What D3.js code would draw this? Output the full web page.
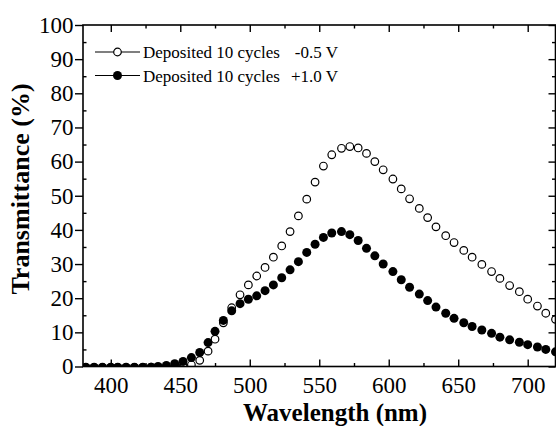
<!DOCTYPE html>
<html>
<head>
<meta charset="utf-8">
<script src="https://cdn.jsdelivr.net/npm/d3@7"></script>
<style>
  body { margin: 0; background: #fff; }
  svg { display: block; color: #000; }
  text { font-family: "Liberation Serif", "Times New Roman", serif; fill: #000; }
</style>
</head>
<body>
<svg id="canvas" width="556" height="426"></svg>
<script>
// wavelength (nm) of each plotted point
let wavelength = [382,388,394,400,405,411,417,423,429,434,440,446,452,
  458,464,470,475,481,487,493,499,505,511,517,523,529,535,541,547,553,
  559,566,572,578,584,590,596,603,609,615,622,628,634,
  641,647,654,660,667,674,680,687,694,700,707,713,720]

// transmittance (%) at -0.5 V (open circles)
let transNeg = [-0.2,-0.2,-0.2,-0.2,-0.2,-0.2,-0.2,-0.2,-0.2,-0.2,-0.2,-0.1,0.1,
  0.5,1.8,4.5,8.0,12.8,17.2,21.0,23.9,26.5,29.0,32.0,35.3,39.5,44.1,49.0,54.0,58.7,
  62.0,63.9,64.4,64.0,62.4,60.0,57.6,54.9,52.0,49.1,46.3,43.6,40.9,
  38.3,36.3,34.0,32.0,29.9,27.8,25.8,23.7,21.9,19.7,17.7,15.6,13.8]

// transmittance (%) at +1.0 V (filled circles)
let transPos = [-0.3,-0.3,-0.3,-0.3,-0.3,-0.3,-0.3,-0.3,-0.2,0.0,0.3,0.8,1.5,
  2.6,4.1,7.0,10.3,13.5,16.3,18.4,19.7,20.7,22.2,23.9,26.0,28.3,30.7,33.4,35.8,37.8,
  39.1,39.5,38.6,36.9,34.6,32.4,30.0,27.8,25.4,23.2,21.2,19.3,17.4,
  15.6,14.1,12.8,11.7,10.7,9.7,8.6,7.8,7.1,6.4,5.7,5.0,4.3]

let xTicks = [400,450,500,550,600,650,700]
let xMinor = [425,475,525,575,625,675]
let yTicks = [0,10,20,30,40,50,60,70,80,90,100]
let yMinor = [5,15,25,35,45,55,65,75,85,95]

let legendLabels = ['Deposited 10 cycles', 'Deposited 10 cycles']
let legendVolts = ['-0.5 V', '+1.0 V']

let svg = d3.select('#canvas')

let pLeft = 83, pRight = 555.5, pTop = 25, pBottom = 366.5

let x = d3.scaleLinear().domain([380, 720]).range([pLeft, pRight])
let y = d3.scaleLinear().domain([0, 100]).range([pBottom, pTop])

svg.append('defs').append('clipPath').attr('id', 'plotclip')
  .append('rect')
  .attr('x', pLeft).attr('y', pTop)
  .attr('width', pRight - pLeft).attr('height', pBottom - pTop)

// data points
let plot = svg.append('g').attr('clip-path', 'url(#plotclip)')

plot.selectAll('.open')
  .data(wavelength)
  .enter()
  .append('circle')
  .attr('class', 'open')
  .attr('cx', (d) => x(d))
  .attr('cy', (d, i) => y(transNeg[i]))
  .attr('r', 3.8)
  .attr('fill', '#fff')
  .attr('stroke', '#000')
  .attr('stroke-width', 1.2)

plot.selectAll('.filled')
  .data(wavelength)
  .enter()
  .append('circle')
  .attr('class', 'filled')
  .attr('cx', (d) => x(d))
  .attr('cy', (d, i) => y(transPos[i]))
  .attr('r', 4.5)
  .attr('fill', '#000')

// axes
let styleAxis = (g) => {
  g.select('.domain').remove()
  g.selectAll('line').attr('stroke', '#000').attr('stroke-width', 1.4)
  g.selectAll('text')
    .attr('fill', '#000')
    .attr('font-size', 23)
    .attr('font-family', '"Liberation Serif", serif')
}

svg.append('g')
  .attr('transform', 'translate(0,' + pBottom + ')')
  .call(d3.axisBottom(x).tickValues(xTicks).tickSize(-7).tickPadding(10.5))
  .call(styleAxis)
svg.append('g')
  .attr('transform', 'translate(0,' + pBottom + ')')
  .call(d3.axisBottom(x).tickValues(xMinor).tickSize(-3.5).tickFormat(''))
  .call(styleAxis)

svg.append('g')
  .attr('transform', 'translate(0,' + pTop + ')')
  .call(d3.axisTop(x).tickValues(xTicks).tickSize(-7).tickFormat(''))
  .call(styleAxis)
svg.append('g')
  .attr('transform', 'translate(0,' + pTop + ')')
  .call(d3.axisTop(x).tickValues(xMinor).tickSize(-3.5).tickFormat(''))
  .call(styleAxis)

svg.append('g')
  .attr('transform', 'translate(' + pLeft + ',0)')
  .call(d3.axisLeft(y).tickValues(yTicks).tickSize(8).tickPadding(1.5))
  .call(styleAxis)
svg.append('g')
  .attr('transform', 'translate(' + pLeft + ',0)')
  .call(d3.axisLeft(y).tickValues(yMinor).tickSize(-3.5).tickFormat(''))
  .call(styleAxis)

svg.append('g')
  .attr('transform', 'translate(' + pRight + ',0)')
  .call(d3.axisRight(y).tickValues(yTicks).tickSize(-7).tickFormat(''))
  .call(styleAxis)
svg.append('g')
  .attr('transform', 'translate(' + pRight + ',0)')
  .call(d3.axisRight(y).tickValues(yMinor).tickSize(-3.5).tickFormat(''))
  .call(styleAxis)

// frame
svg.append('rect')
  .attr('x', pLeft).attr('y', pTop)
  .attr('width', pRight - pLeft).attr('height', pBottom - pTop)
  .attr('fill', 'none')
  .attr('stroke', '#000')
  .attr('stroke-width', 1.6)

// axis titles
svg.append('text')
  .attr('x', 335)
  .attr('y', 421)
  .attr('text-anchor', 'middle')
  .attr('font-size', 25)
  .attr('font-weight', 'bold')
  .text('Wavelength (nm)')

svg.append('text')
  .attr('transform', 'translate(28.5,189) rotate(-90)')
  .attr('text-anchor', 'middle')
  .attr('font-size', 26)
  .attr('font-weight', 'bold')
  .text('Transmittance (%)')

// legend
let legend = svg.selectAll('.legend')
  .data(legendLabels)
  .enter()
  .append('g')
  .attr('class', 'legend')
  .attr('transform', (d, i) => 'translate(0,' + (52 + i * 23.5) + ')')

legend.append('line')
  .attr('x1', 95).attr('x2', 140)
  .attr('y1', 0).attr('y2', 0)
  .attr('stroke', '#000')
  .attr('stroke-width', 1.2)

legend.append('circle')
  .attr('cx', 117.5).attr('cy', 0)
  .attr('r', (d, i) => i === 0 ? 3.8 : 4.5)
  .attr('fill', (d, i) => i === 0 ? '#fff' : '#000')
  .attr('stroke', '#000')
  .attr('stroke-width', (d, i) => i === 0 ? 1.2 : 0)

legend.append('text')
  .attr('x', 143).attr('y', 6)
  .attr('font-size', 17)
  .text((d) => d)

legend.append('text')
  .attr('x', 338).attr('y', 6)
  .attr('text-anchor', 'end')
  .attr('font-size', 17)
  .text((d, i) => legendVolts[i])
</script>
</body>
</html>
